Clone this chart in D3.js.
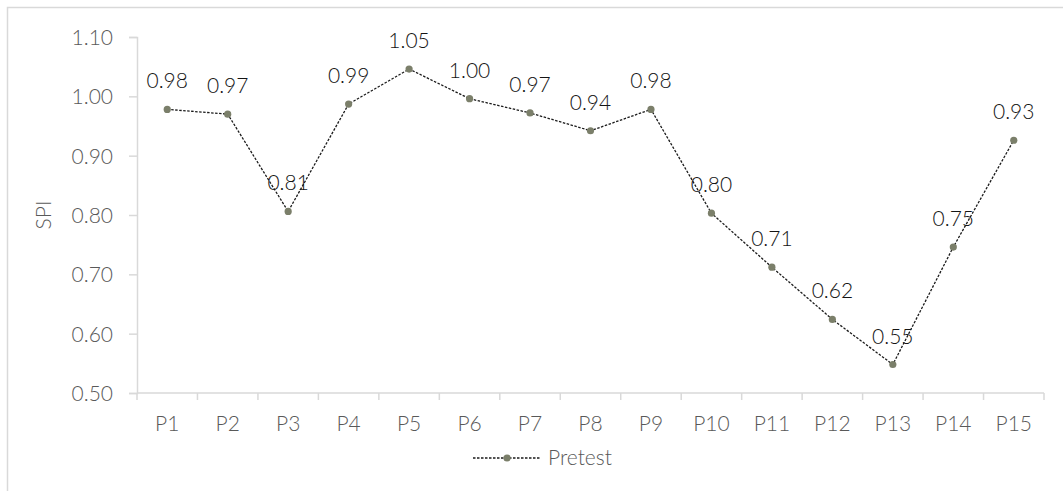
<!DOCTYPE html>
<html>
<head>
<meta charset="utf-8">
<script src="https://cdn.jsdelivr.net/npm/d3@7"></script>
<style>
  html, body { margin: 0; padding: 0; background: #fff; }
  svg { display: block; }
  text { font-family: Lato, "Open Sans", sans-serif; font-weight: 300; }
</style>
</head>
<body>
<svg id="chart" width="1063" height="491"></svg>
<script>
// SPI per participant, pretest
const categories = ["P1","P2","P3","P4","P5","P6","P7","P8","P9","P10","P11","P12","P13","P14","P15"];
const pretest = [0.978, 0.970, 0.806, 0.987, 1.046, 0.996, 0.972, 0.942, 0.978, 0.803, 0.712, 0.624, 0.548, 0.746, 0.926];
const yTicks = [0.50, 0.60, 0.70, 0.80, 0.90, 1.00, 1.10];
const seriesName = "Pretest";
const yTitle = "SPI";

const svg = d3.select("#chart");
const plot = { left: 137, right: 1044, top: 37, bottom: 393 };
const fs = 21;

const axisColor = "#d9d9d9";
const tickText = "#595959";
const labelText = "#141414";
const markerColor = "#7b7f6a";

// outer chart frame
svg.append("rect")
  .attr("x", 7.5).attr("y", 7.5)
  .attr("width", 1200).attr("height", 700)
  .attr("fill", "none").attr("stroke", axisColor).attr("stroke-width", 1.5);

const x = d3.scaleBand().domain(categories).range([plot.left, plot.right]).padding(0);
const y = d3.scaleLinear().domain([0.5, 1.1]).range([plot.bottom, plot.top]);

// y axis
const yAxis = svg.append("g")
  .attr("transform", `translate(${plot.left},0)`)
  .call(d3.axisLeft(y).tickValues(yTicks).tickFormat(d3.format(".2f")).tickSizeOuter(0).tickSize(8).tickPadding(16));
yAxis.select(".domain").attr("stroke", axisColor).attr("stroke-width", 1.5);
yAxis.selectAll(".tick line").attr("stroke", axisColor).attr("stroke-width", 1.5);
yAxis.selectAll(".tick text")
  .attr("fill", tickText).attr("font-size", fs).attr("dy", "0.35em");

// x axis with ticks at category boundaries
const xAxisG = svg.append("g").attr("transform", `translate(0,${plot.bottom})`);
xAxisG.append("line")
  .attr("x1", plot.left).attr("x2", plot.right)
  .attr("stroke", axisColor).attr("stroke-width", 1.5);
const boundaries = categories.map(c => x(c)).concat([x(categories[categories.length - 1]) + x.bandwidth()]);
xAxisG.selectAll("line.bt").data(boundaries).join("line")
  .attr("class", "bt")
  .attr("x1", d => d).attr("x2", d => d)
  .attr("y1", 0).attr("y2", 7)
  .attr("stroke", axisColor).attr("stroke-width", 1.5);
xAxisG.selectAll("text").data(categories).join("text")
  .attr("x", d => x(d) + x.bandwidth() / 2)
  .attr("y", 38)
  .attr("text-anchor", "middle")
  .attr("fill", tickText).attr("font-size", fs)
  .text(d => d);

// y axis title
svg.append("text")
  .attr("transform", `translate(51,${(plot.top + plot.bottom) / 2}) rotate(-90)`)
  .attr("text-anchor", "middle")
  .attr("fill", tickText).attr("font-size", fs)
  .text(yTitle);

const cx = (d, i) => x(categories[i]) + x.bandwidth() / 2;

// dashed series line
const line = d3.line().x((d, i) => cx(d, i)).y(d => y(d));
svg.append("path")
  .datum(pretest)
  .attr("d", line)
  .attr("fill", "none")
  .attr("stroke", "#1a1a1a")
  .attr("stroke-width", 1.3)
  .attr("stroke-dasharray", "2.5,1.5");

// markers
svg.selectAll("circle.pt").data(pretest).join("circle")
  .attr("class", "pt")
  .attr("cx", cx).attr("cy", d => y(d))
  .attr("r", 3.6).attr("fill", markerColor);

// value labels above each point
svg.selectAll("text.val").data(pretest).join("text")
  .attr("class", "val")
  .attr("x", cx).attr("y", d => y(d) - 21)
  .attr("text-anchor", "middle")
  .attr("fill", labelText).attr("font-size", fs)
  .text(d => d.toFixed(2));

// legend
const lg = svg.append("g");
lg.append("line")
  .attr("x1", 473).attr("x2", 541).attr("y1", 458).attr("y2", 458)
  .attr("stroke", "#1a1a1a").attr("stroke-width", 1.3).attr("stroke-dasharray", "2.5,1.5");
lg.append("circle").attr("cx", 507).attr("cy", 458).attr("r", 3.6).attr("fill", markerColor);
lg.append("text")
  .attr("x", 548).attr("y", 458).attr("dy", "0.35em")
  .attr("fill", tickText).attr("font-size", fs)
  .text(seriesName);
</script>
</body>
</html>
